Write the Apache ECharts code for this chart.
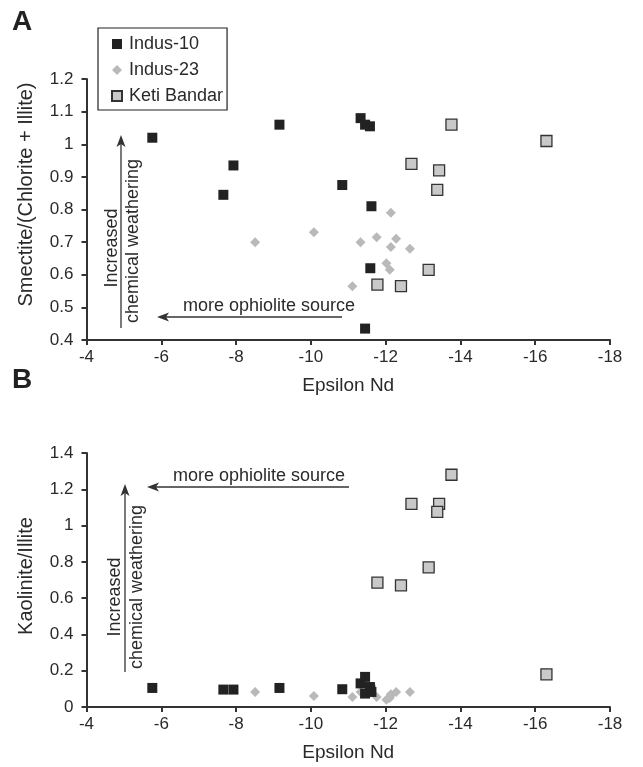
<!DOCTYPE html>
<html>
<head>
<meta charset="utf-8">
<script src="https://cdn.jsdelivr.net/npm/echarts@6/dist/echarts.min.js"></script>
<style>html,body{margin:0;padding:0;background:#fff}#c{width:643px;height:767px}</style>
</head>
<body>
<div id="c"></div>
<script>
// Panel A/B shared epsilon Nd values
const indus10Eps  = [-5.76, -9.16, -7.93, -7.66, -10.84, -11.33, -11.45, -11.58, -11.62, -11.59, -11.45];
const indus10Smec = [1.02, 1.06, 0.935, 0.845, 0.875, 1.08, 1.06, 1.055, 0.81, 0.62, 0.435];
const indus10Kaol = [0.105, 0.105, 0.096, 0.096, 0.098, 0.13, 0.166, 0.11, 0.083, 0.095, 0.074];

const indus23Eps  = [-8.51, -10.08, -11.33, -11.11, -12.14, -11.76, -12.28, -12.14, -12.65, -12.02, -12.11];
const indus23Smec = [0.70, 0.73, 0.70, 0.565, 0.79, 0.715, 0.71, 0.685, 0.68, 0.635, 0.615];
const indus23Kaol = [0.083, 0.06, 0.083, 0.055, 0.07, 0.055, 0.083, 0.065, 0.083, 0.04, 0.05];

const ketiEps  = [-13.76, -16.30, -12.69, -13.43, -13.38, -13.15, -11.78, -12.41];
const ketiSmec = [1.06, 1.01, 0.94, 0.92, 0.86, 0.615, 0.57, 0.565];
const ketiKaol = [1.28, 0.18, 1.12, 1.12, 1.075, 0.77, 0.685, 0.67];

const seriesNames = ['Indus-10', 'Indus-23', 'Keti Bandar'];
const xTitle = 'Epsilon Nd';
const yTitleA = 'Smectite/(Chlorite + Illite)';
const yTitleB = 'Kaolinite/Illite';

function zip(a, b) { return a.map((v, i) => [v, b[i]]); }

const FONT = '"Liberation Sans", Arial, sans-serif';
const TXT = '#2a2a2a';

const chart = echarts.init(document.getElementById('c'), null, {renderer: 'canvas'});

function xAxisCfg(gi) {
  return {
    gridIndex: gi, type: 'value', min: -18, max: -4, interval: 2, inverse: true,
    name: xTitle, nameLocation: 'middle', nameGap: 36,
    nameTextStyle: {fontFamily: FONT, fontSize: 19, color: TXT},
    axisLine: {onZero: false, lineStyle: {color: '#333', width: 2}},
    axisTick: {show: true, length: 5, lineStyle: {color: '#333', width: 2}},
    axisLabel: {fontFamily: FONT, fontSize: 17, color: TXT, margin: 9},
    splitLine: {show: false}
  };
}
function yAxisCfg(gi, min, max, interval, name, gap, shift) {
  return {
    gridIndex: gi, type: 'value', min: min, max: max, interval: interval,
    name: name, nameLocation: 'middle', nameGap: gap,
    nameTextStyle: {fontFamily: FONT, fontSize: 20, color: TXT, padding: [0, 0, 0, shift]},
    axisLine: {onZero: false, lineStyle: {color: '#333', width: 2}},
    axisTick: {show: true, length: 5, lineStyle: {color: '#333', width: 2}},
    axisLabel: {fontFamily: FONT, fontSize: 17, color: TXT, margin: 13},
    splitLine: {show: false}
  };
}

const sqStyle = {color: '#222222', opacity: 1};
const diaStyle = {color: '#b9b9b9', opacity: 1};
const ketiStyle = {color: '#c9c9c9', borderColor: '#333', borderWidth: 1.3, opacity: 1};

function mk(name, gi, data, symbol, size, style) {
  return {
    name: name, type: 'scatter', xAxisIndex: gi, yAxisIndex: gi,
    data: data, symbol: symbol, symbolSize: size, itemStyle: style,
    emphasis: {disabled: true}, z: name === 'Indus-23' ? 2 : 3
  };
}

// arrow helper (annotation graphics)
function arrow(x1, y1, x2, y2) {
  const dx = x2 - x1, dy = y2 - y1, L = Math.hypot(dx, dy);
  const ux = dx / L, uy = dy / L, px = -uy, py = ux;
  const hl = 12, hw = 4.5, notch = 3;
  const bx = x2 - ux * hl, by = y2 - uy * hl;
  return [
    {type: 'line', shape: {x1: x1, y1: y1, x2: x2 - ux * 6, y2: y2 - uy * 6}, style: {stroke: '#333', lineWidth: 1.3}},
    {type: 'polygon', shape: {points: [
      [x2, y2], [bx + px * hw, by + py * hw], [x2 - ux * (hl - notch), y2 - uy * (hl - notch)], [bx - px * hw, by - py * hw]
    ]}, style: {fill: '#333'}}
  ];
}
function txt(x, y, s, rot) {
  return {type: 'text', x: x, y: y, rotation: rot || 0,
    style: {text: s, fontFamily: FONT, fontSize: 18, fill: TXT, textAlign: 'center', textVerticalAlign: 'middle'}};
}

const graphics = [
  {type: 'text', left: 12, top: 8, style: {text: 'A', fontFamily: FONT, fontSize: 28, fontWeight: 'bold', fill: '#222'}},
  {type: 'text', left: 12, top: 366, style: {text: 'B', fontFamily: FONT, fontSize: 28, fontWeight: 'bold', fill: '#222'}},
  ...arrow(121, 328, 121, 135),
  ...arrow(342, 317, 157, 317),
  txt(112, 248, 'Increased', Math.PI / 2),
  txt(133, 241, 'chemical weathering', Math.PI / 2),
  txt(269, 306, 'more ophiolite source'),
  ...arrow(125, 672, 125, 484),
  ...arrow(349, 487, 147, 487),
  txt(115, 597, 'Increased', Math.PI / 2),
  txt(137, 587, 'chemical weathering', Math.PI / 2),
  txt(259, 476, 'more ophiolite source')
];

chart.setOption({
  animation: false,
  backgroundColor: '#fff',
  grid: [
    {left: 86.5, right: 33, top: 79, height: 261},
    {left: 86.5, right: 33, top: 453, height: 254}
  ],
  xAxis: [xAxisCfg(0), xAxisCfg(1)],
  yAxis: [
    yAxisCfg(0, 0.4, 1.2, 0.1, yTitleA, 50, 30),
    yAxisCfg(1, 0, 1.4, 0.2, yTitleB, 50, 8)
  ],
  legend: {
    data: seriesNames, orient: 'vertical', left: 98, top: 28,
    padding: [7, 4, 5, 13],
    itemWidth: 10, itemHeight: 10, itemGap: 8,
    borderColor: '#222', borderWidth: 1.2, borderRadius: 0,
    textStyle: {fontFamily: FONT, fontSize: 18, color: TXT, padding: [0, 0, 0, 2]},
    selectedMode: false
  },
  graphic: graphics,
  series: [
    mk(seriesNames[0], 0, zip(indus10Eps, indus10Smec), 'rect', 10, sqStyle),
    mk(seriesNames[1], 0, zip(indus23Eps, indus23Smec), 'diamond', 10, diaStyle),
    mk(seriesNames[2], 0, zip(ketiEps, ketiSmec), 'rect', 11, ketiStyle),
    mk(seriesNames[0], 1, zip(indus10Eps, indus10Kaol), 'rect', 10, sqStyle),
    mk(seriesNames[1], 1, zip(indus23Eps, indus23Kaol), 'diamond', 10, diaStyle),
    mk(seriesNames[2], 1, zip(ketiEps, ketiKaol), 'rect', 11, ketiStyle)
  ]
});
</script>
</body>
</html>
